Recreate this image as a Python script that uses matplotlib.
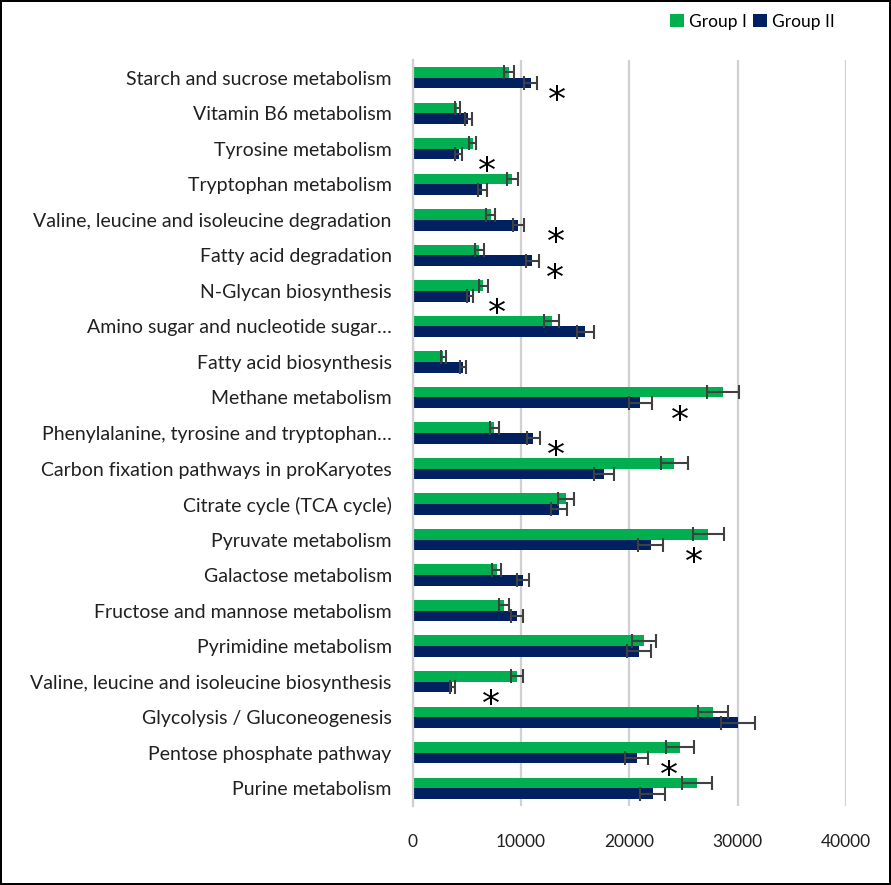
import numpy as np
import matplotlib
matplotlib.use('Agg')
import matplotlib.pyplot as plt

plt.rcParams['font.family'] = ['Lato', 'DejaVu Sans']

# pathways, top to bottom as in the chart
pathways = ['Starch and sucrose metabolism', 'Vitamin B6 metabolism', 'Tyrosine metabolism',
            'Tryptophan metabolism', 'Valine, leucine and isoleucine degradation',
            'Fatty acid degradation', 'N-Glycan biosynthesis',
            'Amino sugar and nucleotide sugar\u2026', 'Fatty acid biosynthesis',
            'Methane metabolism', 'Phenylalanine, tyrosine and tryptophan\u2026',
            'Carbon fixation pathways in proKaryotes', 'Citrate cycle (TCA cycle)',
            'Pyruvate metabolism', 'Galactose metabolism', 'Fructose and mannose metabolism',
            'Pyrimidine metabolism', 'Valine, leucine and isoleucine biosynthesis',
            'Glycolysis / Gluconeogenesis', 'Pentose phosphate pathway', 'Purine metabolism']

group1 = [8880, 4140, 5560, 9220, 7220, 6170, 6540, 12850, 2850, 28640, 7550,
          24150, 14170, 27310, 7770, 8480, 21350, 9620, 27720, 24700, 26240]
group1_err = [460, 250, 340, 540, 415, 385, 415, 690, 200, 1460, 415,
              1250, 755, 1400, 430, 460, 1120, 570, 1415, 1290, 1370]
group2 = [10910, 5150, 4260, 6450, 9770, 11060, 5300, 15960, 4690, 21000, 11150,
          17650, 13550, 21990, 10170, 9620, 20940, 3680, 30030, 20700, 22180]
group2_err = [620, 340, 310, 400, 540, 630, 300, 815, 280, 1060, 585,
              910, 740, 1140, 570, 540, 1110, 215, 1550, 1060, 1150]

# significance marks: row index and x position (data units)
sig_rows = [0, 2, 4, 5, 6, 9, 10, 13, 17, 19]
sig_x = [13340, 6880, 13250, 13160, 7800, 24700, 13250, 26000, 7240, 23690]

green = '#00B050'
navy = '#002060'
errc = '#404040'

fig = plt.figure(figsize=(8.91, 8.85), dpi=100, edgecolor='black', linewidth=1.5)
ax = fig.add_axes([412.5 / 891, 1 - 806 / 885, (846 - 412.5) / 891, (806 - 60) / 885])

y = np.arange(len(pathways))
h = 0.3
ax.barh(y - h / 2, group1, height=h, color=green, label='Group I', zorder=2)
ax.barh(y + h / 2, group2, height=h, color=navy, label='Group II', zorder=2)
ax.errorbar(group1, y - h / 2, xerr=group1_err, fmt='none', ecolor=errc,
            elinewidth=1.5, capsize=5, capthick=1.5, zorder=3)
ax.errorbar(group2, y + h / 2, xerr=group2_err, fmt='none', ecolor=errc,
            elinewidth=1.5, capsize=5, capthick=1.5, zorder=3)

for r, sx in zip(sig_rows, sig_x):
    ax.text(sx, r + 0.66, '*', fontsize=26, ha='center', va='center',
            family='DejaVu Sans', color='black', zorder=4)

ax.set_ylim(len(pathways) - 0.5, -0.5)
ax.set_xlim(0, 40000)
ax.set_xticks(np.arange(0, 40001, 10000))
ax.set_yticks(y)
ax.set_yticklabels(pathways, fontsize=14, color='#202020')
ax.tick_params(axis='x', length=0, pad=20, labelsize=12.5, labelcolor='#202020')
ax.tick_params(axis='y', length=0, pad=15)
ax.grid(axis='x', color='#D0D0D0', linewidth=1.6, zorder=0)
ax.set_axisbelow(True)
for s in ['top', 'right', 'bottom']:
    ax.spines[s].set_visible(False)
ax.spines['left'].set_color('#D0D0D0')
ax.spines['left'].set_linewidth(1.6)

fig.legend(loc='upper right', bbox_to_anchor=(850 / 891, 1 + 2 / 885), ncol=2, frameon=False,
           fontsize=12.5, handlelength=0.8, handleheight=0.8, handletextpad=0.25,
           columnspacing=0.4)

fig.savefig('out.png', dpi=100, edgecolor=fig.get_edgecolor())
